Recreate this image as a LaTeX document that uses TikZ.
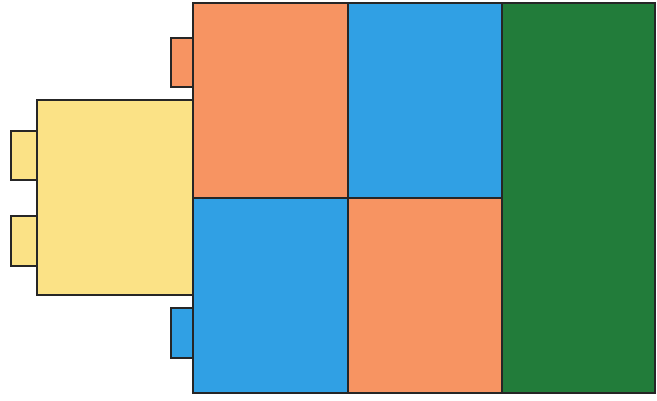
\documentclass[tikz,border=0pt]{standalone}
\usepackage{xcolor}
\usepackage{tikz}

\definecolor{brickorange}{RGB}{247,148,98}
\definecolor{brickblue}{RGB}{48,160,228}
\definecolor{brickgreen}{RGB}{34,124,58}
\definecolor{brickyellow}{RGB}{251,226,134}

\begin{document}
\begin{tikzpicture}[
    x=1pt, y=-1pt,
    part/.style={draw=black!85, line width=2pt},
    tab/.style={draw=black!85, line width=1.2pt}
]
\useasboundingbox (0,0) rectangle (657,401);

% small tabs
\draw[tab, fill=brickyellow] (11,131) rectangle (37,180);
\draw[tab, fill=brickyellow] (11,216) rectangle (37,266);
\draw[tab, fill=brickorange] (171,38) rectangle (193,87);
\draw[tab, fill=brickblue] (171,308) rectangle (193,358);

% left block
\draw[part, fill=brickyellow] (37,100) rectangle (193,295);

% main grid
\draw[part, fill=brickorange] (193,3) rectangle (348,198);
\draw[part, fill=brickblue] (348,3) rectangle (502,198);
\draw[part, fill=brickblue] (193,198) rectangle (348,393);
\draw[part, fill=brickorange] (348,198) rectangle (502,393);
\draw[part, fill=brickgreen] (502,3) rectangle (655,393);

\end{tikzpicture}
\end{document}
